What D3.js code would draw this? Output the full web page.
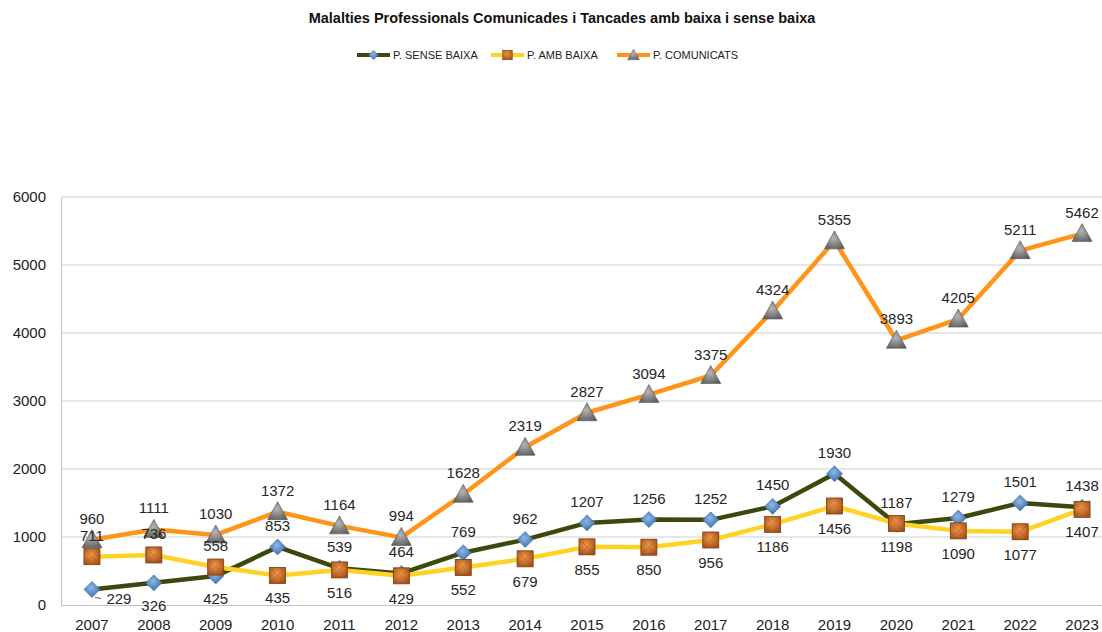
<!DOCTYPE html>
<html>
<head>
<meta charset="utf-8">
<script src="https://cdn.jsdelivr.net/npm/d3@7"></script>
<style>
  body { margin: 0; background: #fff; }
  text { font-family: "Liberation Sans", Arial, sans-serif; }
</style>
</head>
<body>
<svg id="chart" width="1102" height="632"></svg>
<script>
// data
var years = ["2007","2008","2009","2010","2011","2012","2013","2014","2015","2016","2017","2018","2019","2020","2021","2022","2023"];
var senseBaixa = [229, 326, 425, 853, 539, 464, 769, 962, 1207, 1256, 1252, 1450, 1930, 1187, 1279, 1501, 1438];
var ambBaixa = [711, 736, 558, 435, 516, 429, 552, 679, 855, 850, 956, 1186, 1456, 1198, 1090, 1077, 1407];
var comunicats = [960, 1111, 1030, 1372, 1164, 994, 1628, 2319, 2827, 3094, 3375, 4324, 5355, 3893, 4205, 5211, 5462];
var yTicks = [0, 1000, 2000, 3000, 4000, 5000, 6000];

var series = [
  {name: "P. SENSE BAIXA", values: senseBaixa, color: "#3b4a0c", marker: "diamond"},
  {name: "P. AMB BAIXA", values: ambBaixa, color: "#ffd326", marker: "square"},
  {name: "P. COMUNICATS", values: comunicats, color: "#ff9419", marker: "triangle"}
];

var svg = d3.select("#chart");
var plotL = 61, plotR = 1113, plotT = 197, plotB = 605;

var x = d3.scaleBand().domain(years).range([plotL, plotR]);
var y = d3.scaleLinear().domain([0, 6000]).range([plotB, plotT]);
var cx = function(i) { return x(years[i]) + x.bandwidth() / 2; };

// gradients for the markers
var defs = svg.append("defs");
function grad(id, c1, c2) {
  var g = defs.append("radialGradient").attr("id", id).attr("cx", "45%").attr("cy", "40%").attr("r", "70%");
  g.append("stop").attr("offset", "0%").attr("stop-color", c1);
  g.append("stop").attr("offset", "100%").attr("stop-color", c2);
}
grad("gDiamond", "#8fb8e6", "#2f64a3");
grad("gSquare", "#f29a4c", "#9c4a12");
grad("gTriangle", "#b5b5b5", "#5a5a5a");

// title
svg.append("text")
  .attr("x", 562).attr("y", 23)
  .attr("text-anchor", "middle")
  .style("font-size", "14.5px").style("font-weight", "bold").attr("fill", "#111")
  .text("Malalties Professionals  Comunicades i Tancades amb baixa i sense baixa");

// grid
svg.append("g").selectAll("line").data(yTicks.slice(1)).enter().append("line")
  .attr("x1", plotL).attr("x2", 1102)
  .attr("y1", function(d) { return y(d); }).attr("y2", function(d) { return y(d); })
  .attr("stroke", "#cfcfcf").attr("stroke-width", 1);

// axes
var yAxis = svg.append("g").attr("transform", "translate(" + plotL + ",0)")
  .call(d3.axisLeft(y).tickValues(yTicks).tickFormat(d3.format("d")).tickSize(0).tickPadding(15));
yAxis.select(".domain").attr("stroke", "#c4c4c4");
yAxis.selectAll("text").style("font-size", "15px").attr("fill", "#222").style("font-family", "Liberation Sans, Arial, sans-serif");

var xAxis = svg.append("g").attr("transform", "translate(0," + plotB + ")")
  .call(d3.axisBottom(x).tickSize(0).tickPadding(14));
xAxis.select(".domain").attr("stroke", "#c4c4c4").attr("d", "M" + plotL + ",0.5H1102");
xAxis.selectAll("text").style("font-size", "15px").attr("fill", "#222").style("font-family", "Liberation Sans, Arial, sans-serif");

// markers
function drawMarker(g, type, px, py) {
  if (type === "diamond") {
    g.append("path").attr("d", "M" + px + "," + (py - 8) + "L" + (px + 8) + "," + py + "L" + px + "," + (py + 8) + "L" + (px - 8) + "," + py + "Z")
      .attr("fill", "url(#gDiamond)").attr("stroke", "#3d6fa8").attr("stroke-width", 0.6);
  } else if (type === "square") {
    g.append("rect").attr("x", px - 8).attr("y", py - 8).attr("width", 16).attr("height", 16)
      .attr("fill", "url(#gSquare)").attr("stroke", "#7a3a0e").attr("stroke-width", 0.8);
    g.append("path").attr("d", "M" + (px - 8) + "," + (py - 8) + "L" + (px + 8) + "," + (py + 8) + "M" + (px + 8) + "," + (py - 8) + "L" + (px - 8) + "," + (py + 8))
      .attr("stroke", "#b8601f").attr("stroke-width", 0.8).attr("opacity", 0.7);
  } else {
    g.append("path").attr("d", "M" + px + "," + (py - 10) + "L" + (px + 10) + "," + (py + 8) + "L" + (px - 10) + "," + (py + 8) + "Z")
      .attr("fill", "url(#gTriangle)").attr("stroke", "#555").attr("stroke-width", 0.6);
  }
}

var line = d3.line().x(function(d, i) { return cx(i); }).y(function(d) { return y(d); });

// lines: comunicats first, then sense baixa, then amb baixa on top
var order = [2, 0, 1];
order.forEach(function(k) {
  var s = series[k];
  svg.append("path").datum(s.values).attr("d", line)
    .attr("fill", "none").attr("stroke", s.color).attr("stroke-width", 4.5)
    .attr("stroke-linejoin", "round");
});
order.forEach(function(k) {
  var s = series[k];
  var g = svg.append("g");
  s.values.forEach(function(v, i) { drawMarker(g, s.marker, cx(i), y(v)); });
});

// data labels (first sense-baixa label is pushed right, like the reference)
function labelBelow(k, i) {
  if (k === 0) return i < 3;
  if (k === 1) return i >= 3;
  return false;
}
series.forEach(function(s, k) {
  svg.append("g").selectAll("text").data(s.values).enter().append("text")
    .attr("x", function(d, i) { return cx(i) + (k === 0 && i === 0 ? 27 : 0); })
    .attr("y", function(d, i) {
      if (k === 0 && i === 0) return y(d) + 15;
      return y(d) + (labelBelow(k, i) ? 28 : -16);
    })
    .attr("text-anchor", "middle")
    .style("font-size", "15px").attr("fill", "#262626")
    .text(function(d) { return d; });
});
// leader for first label
svg.append("line").attr("x1", cx(0) + 3).attr("x2", cx(0) + 9)
  .attr("y1", y(senseBaixa[0]) + 8).attr("y2", y(senseBaixa[0]) + 9)
  .attr("stroke", "#555").attr("stroke-width", 1);

// legend
var legX = [357, 491, 617];
series.forEach(function(s, k) {
  var g = svg.append("g").attr("transform", "translate(" + legX[k] + ",55)");
  g.append("line").attr("x1", 0).attr("x2", 33).attr("stroke", s.color).attr("stroke-width", 4);
  var lg = g.append("g").attr("transform", "scale(0.6)");
  drawMarker(lg, s.marker, 16.5 / 0.6, 0);
  g.append("text").attr("x", 36).attr("y", 4).style("font-size", "11px").attr("fill", "#222").text(s.name);
});
</script>
</body>
</html>
